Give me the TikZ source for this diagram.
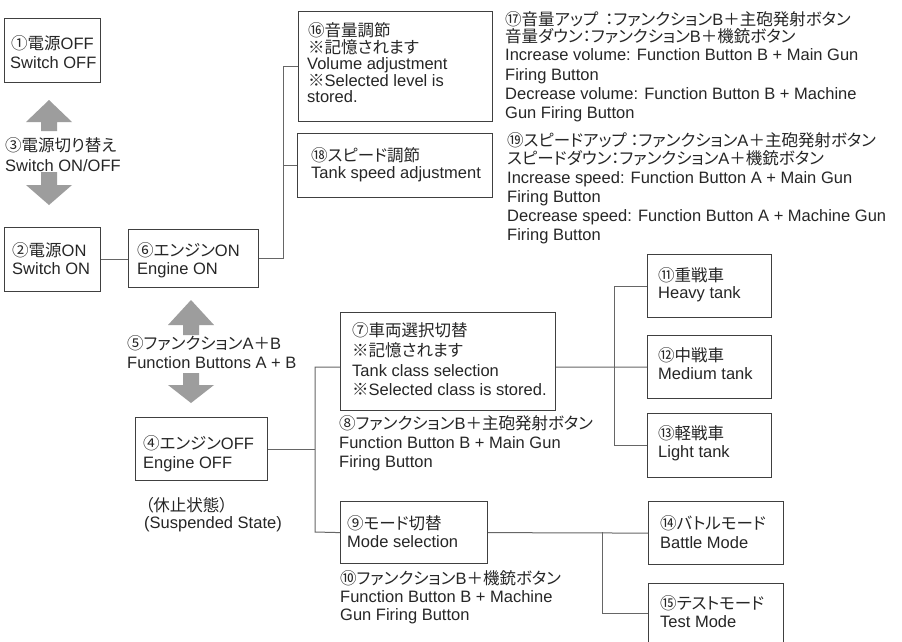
\documentclass[tikz,border=0pt]{standalone}
\usepackage{fontspec}
\setmainfont{Liberation Sans}
\newfontfamily\jpfont[RawFeature=+palt]{Noto Sans CJK JP}
\newcommand\jpt[1]{{\jpfont #1}}
\definecolor{textcol}{HTML}{262626}
\definecolor{boxcol}{HTML}{404040}
\definecolor{conncol}{HTML}{666666}
\definecolor{arrcol}{HTML}{9D9D9D}
\tikzset{
  txt/.style={anchor=base west, inner sep=0pt, text=textcol, font=\fontsize{16.5}{19}\selectfont},
  txtb/.style={txt, font=\fontsize{16.5}{19}\selectfont},
  box/.style={draw=boxcol, line width=1.2pt, anchor=north west, inner sep=0pt, fill=white},
  conn/.style={draw=conncol, line width=1pt},
  bigarrow/.style={fill=arrcol, draw=none}
}
\newcommand\bx[5]{\node[box, minimum width=#4pt, minimum height=#5pt] (#1) at (#2,#3) {};}
\newcommand\tl[4]{\node[txt] (#1) at (#2,#3) {#4};}
\newcommand\tlb[4]{\node[txtb] (#1) at (#2,#3) {#4};}
\begin{document}
\begin{tikzpicture}[x=1pt,y=-1pt]
\path[use as bounding box, fill=white] (0,0) rectangle (902,641);
\clip (0,0) rectangle (902,641);

% boxes
\bx{b1}{4}{18}{96}{64}
\bx{b2}{4}{227}{96}{64}
\bx{b6}{128}{229}{130}{58}
\bx{b16}{298}{11}{194}{110}
\bx{b18}{297}{133}{195}{64}
\bx{b7}{340}{312}{215}{98}
\bx{b11}{647}{254}{124}{63}
\bx{b12}{647}{335}{124}{63}
\bx{b13}{647}{413}{124}{64}
\bx{b4}{135}{417}{132}{63}
\bx{b9}{340}{501}{147}{62}
\bx{b14}{648}{501}{135}{63}
\bx{b15}{648}{583}{135}{60}

% connectors
\draw[conn] (b2.east) -- (b2.east -| b6.west);
\draw[conn] (b6.east) -| ([xshift=-15pt]b16.west) -- (b16.west);
\draw[conn] (b18.west) -- ++(-14,0);
\coordinate (j2a) at (315,367);
\coordinate (j2b) at (315,532);
\draw[conn] (b7.west |- j2a) -- (j2a) -- (j2b) -- (b9.west);
\draw[conn] (b4.east) -- (b4.east -| j2a);
\coordinate (j3) at (614,367);
\draw[conn] (b7.east |- j3) -- (j3) -- (b12.west);
\draw[conn] (b11.west) -| (b13.west -| j3) -- (b13.west);
\draw[conn] (b9.east) -- (b14.west);
\coordinate (j4) at (602,532);
\draw[conn] (j4) |- (b15.west);

% big gray arrows
\fill[bigarrow] (49,100) -- (72,122) -- (57,122) -- (57,131) -- (41,131) -- (41,122) -- (26,122) -- cycle;
\fill[bigarrow] (41,172) -- (57,172) -- (57,185) -- (72,185) -- (49,205) -- (26,185) -- (41,185) -- cycle;
\fill[bigarrow] (191,300) -- (214,325) -- (199,325) -- (199,335) -- (183,335) -- (183,325) -- (168,325) -- cycle;
\fill[bigarrow] (183,373) -- (199,373) -- (199,385) -- (214,385) -- (191,403) -- (168,385) -- (183,385) -- cycle;

% texts
\tl{t1a}{11}{49}{\jpt{①電源}OFF}
\tl{t1b}{10}{68}{Switch OFF}
\tl{t3a}{5}{151}{\jpt{③電源切り替え}}
\tl{t3b}{5}{171}{Switch ON/OFF}
\tl{t2a}{12}{256}{\jpt{②電源}ON}
\tl{t2b}{12}{274}{Switch ON}
\tl{t6a}{137}{256}{\jpt{⑥エンジン}ON}
\tl{t6b}{137}{274}{Engine ON}
\tl{t5a}{127}{349}{\jpt{⑤ファンクション}A\jpt{＋}B}
\tl{t5b}{127}{368}{Function Buttons A + B}
\tl{t4a}{143}{449}{\jpt{④エンジン}OFF}
\tl{t4b}{143}{468}{Engine OFF}
\tl{ts1}{145}{511}{\jpt{（休止状態）}}
\tl{ts2}{144}{528}{(Suspended State)}

\tl{t16a}{308}{36}{\jpt{⑯音量調節}}
\tl{t16b}{308}{53}{\jpt{※記憶されます}}
\tl{t16c}{307}{69}{Volume adjustment}
\tl{t16d}{308}{86}{\jpt{※}Selected level is}
\tl{t16e}{307}{102}{stored.}
\tl{t18a}{311}{161}{\jpt{⑱スピード調節}}
\tl{t18b}{311}{178}{Tank speed adjustment}

\tlb{t17a}{505}{25}{\jpt{⑰音量アップ\hspace{7pt}：ファンクション}B\jpt{＋主砲発射ボタン}}
\tlb{t17b}{505}{42}{\jpt{音量ダウン：ファンクション}B\jpt{＋機銃ボタン}}
\tlb{t17c}{505}{60}{Increase volume: Function Button B + Main Gun}
\tlb{t17d}{505}{80}{Firing Button}
\tlb{t17e}{505}{99}{Decrease volume: Function Button B + Machine}
\tlb{t17f}{505}{118}{Gun Firing Button}

\tlb{t19a}{507}{146}{\jpt{⑲スピードアップ ：ファンクション}A\jpt{＋主砲発射ボタン}}
\tlb{t19b}{507}{164}{\jpt{スピードダウン：ファンクション}A\jpt{＋機銃ボタン}}
\tlb{t19c}{507}{183}{Increase speed: Function Button A + Main Gun}
\tlb{t19d}{507}{202}{Firing Button}
\tlb{t19e}{507}{221}{Decrease speed: Function Button A + Machine Gun}
\tlb{t19f}{507}{240}{Firing Button}

\tl{t7a}{352}{336}{\jpt{⑦車両選択切替}}
\tl{t7b}{352}{356}{\jpt{※記憶されます}}
\tl{t7c}{352}{376}{Tank class selection}
\tl{t7d}{352}{395}{\jpt{※}Selected class is stored.}
\tl{t8a}{339}{429}{\jpt{⑧ファンクション}B\jpt{＋主砲発射ボタン}}
\tl{t8b}{339}{448}{Function Button B + Main Gun}
\tl{t8c}{339}{467}{Firing Button}

\tl{t11a}{658}{281}{\jpt{⑪重戦車}}
\tl{t11b}{658}{298}{Heavy tank}
\tl{t12a}{658}{361}{\jpt{⑫中戦車}}
\tl{t12b}{658}{379}{Medium tank}
\tl{t13a}{658}{439}{\jpt{⑬軽戦車}}
\tl{t13b}{658}{457}{Light tank}

\tl{t9a}{347}{529}{\jpt{⑨モード切替}}
\tl{t9b}{347}{547}{Mode selection}
\tl{t10a}{340}{584}{\jpt{⑩ファンクション}B\jpt{＋機銃ボタン}}
\tl{t10b}{340}{602}{Function Button B + Machine}
\tl{t10c}{340}{620}{Gun Firing Button}

\tl{t14a}{660}{529}{\jpt{⑭バトルモード}}
\tl{t14b}{660}{548}{Battle Mode}
\tl{t15a}{660}{609}{\jpt{⑮テストモード}}
\tl{t15b}{660}{627}{Test Mode}
\end{tikzpicture}
\end{document}
